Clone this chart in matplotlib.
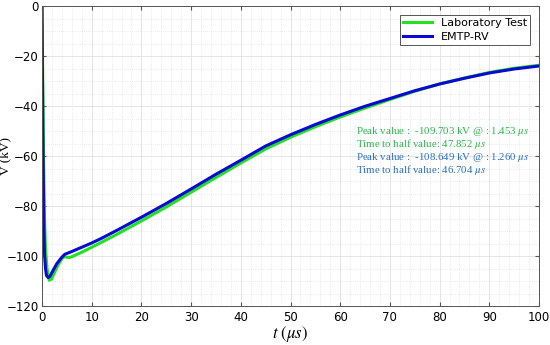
import matplotlib
matplotlib.use("Agg")
import matplotlib.pyplot as plt
from matplotlib.ticker import MultipleLocator

# EMTP-RV simulation (blue)
t_emtp = [0, 0.1, 0.2, 0.3, 0.4, 0.5, 0.7, 0.9, 1.26, 1.6, 2.0, 3.0, 4.0, 4.6,
          5, 6, 8, 10, 12, 15, 20, 25, 30, 35, 40, 45, 50, 55, 60, 65, 70,
          75, 80, 85, 90, 95, 100]
v_emtp = [0, -30, -55, -75, -90, -99, -105, -107.8, -108.65, -108.1, -106.6,
          -103.0, -100.5, -99.3, -99.0, -98.2, -96.5, -94.8, -92.9, -89.8,
          -84.5, -79.0, -73.2, -67.3, -61.7, -56.0, -51.5, -47.4, -43.6,
          -40.1, -37.0, -33.9, -31.2, -28.9, -26.8, -25.2, -24.0]

# laboratory measurement (green)
t_lab = [0, 0.1, 0.3, 0.5, 0.7, 1.0, 1.45, 1.9, 2.2, 3.0, 4.0, 4.5, 5.0, 5.5,
         6, 8, 10, 12, 15, 20, 25, 30, 35, 40, 45, 50, 55, 60, 65, 70, 75,
         80, 85, 90, 95, 100]
v_lab = [0, -20, -60, -85, -97, -105, -109.7, -109.3, -108.0, -104.5, -101.0,
         -100.3, -100.5, -100.6, -100.3, -98.5, -96.5, -94.5, -91.4, -86.0,
         -80.4, -74.5, -68.6, -62.8, -57.2, -52.5, -48.3, -44.4, -40.8,
         -37.4, -34.1, -31.2, -28.8, -26.6, -24.9, -23.7]

annotations = [
    ("Peak value :  -109.703 kV @ : 1.453 $\\mu s$", "#2eb34e"),
    ("Time to half value: 47.852 $\\mu s$", "#2eb34e"),
    ("Peak value :  -108.649 kV @ : 1.260 $\\mu s$", "#2a6fbd"),
    ("Time to half value: 46.704 $\\mu s$", "#2a6fbd"),
]

plt.rcParams["font.family"] = "DejaVu Sans"
plt.rcParams["mathtext.fontset"] = "stix"

fig = plt.figure(figsize=(5.5, 3.45), dpi=100)
ax = fig.add_axes([42 / 550, 1 - 306 / 345, 497 / 550, 300 / 345])

ax.plot(t_lab, v_lab, color="#22e022", lw=2.2, label="Laboratory Test")
ax.plot(t_emtp, v_emtp, color="#0a0ad0", lw=2.2, label="EMTP-RV")

ax.set_xlim(0, 100)
ax.set_ylim(-120, 0)
ax.xaxis.set_major_locator(MultipleLocator(10))
ax.xaxis.set_minor_locator(MultipleLocator(2))
ax.yaxis.set_major_locator(MultipleLocator(20))
ax.yaxis.set_minor_locator(MultipleLocator(5))
ax.grid(which="major", color="#e0e0e0", lw=0.6)
ax.grid(which="minor", color="#d8d8d8", lw=0.5, ls=(0, (1, 2)))
ax.tick_params(which="both", direction="in", top=True, right=True, labelsize=8.5)
ax.tick_params(which="minor", length=0)
ax.tick_params(which="major", length=3, color="#555555")
ax.tick_params(axis="y", pad=2.5)
for s in ax.spines.values():
    s.set_color("#555555")
    s.set_linewidth(0.7)

ax.set_ylabel("V (kV)", family="Liberation Serif", fontsize=9.5)
ax.yaxis.set_label_coords(-0.062, 0.5)
ax.set_xlabel("$t\\ (\\mu s)$", fontsize=12, labelpad=0)

leg = ax.legend(loc="upper right", fontsize=8, fancybox=False, edgecolor="#555555",
                framealpha=1, handlelength=2.6, borderaxespad=0.8,
                borderpad=0.3, labelspacing=0.3)
leg.get_frame().set_linewidth(0.7)

for i, (txt, col) in enumerate(annotations):
    ax.text(63.1, -50.2 - i * 5.1, txt, color=col, fontsize=7.8,
            family="Liberation Serif", va="center", ha="left")

fig.savefig("out.png", dpi=100)
